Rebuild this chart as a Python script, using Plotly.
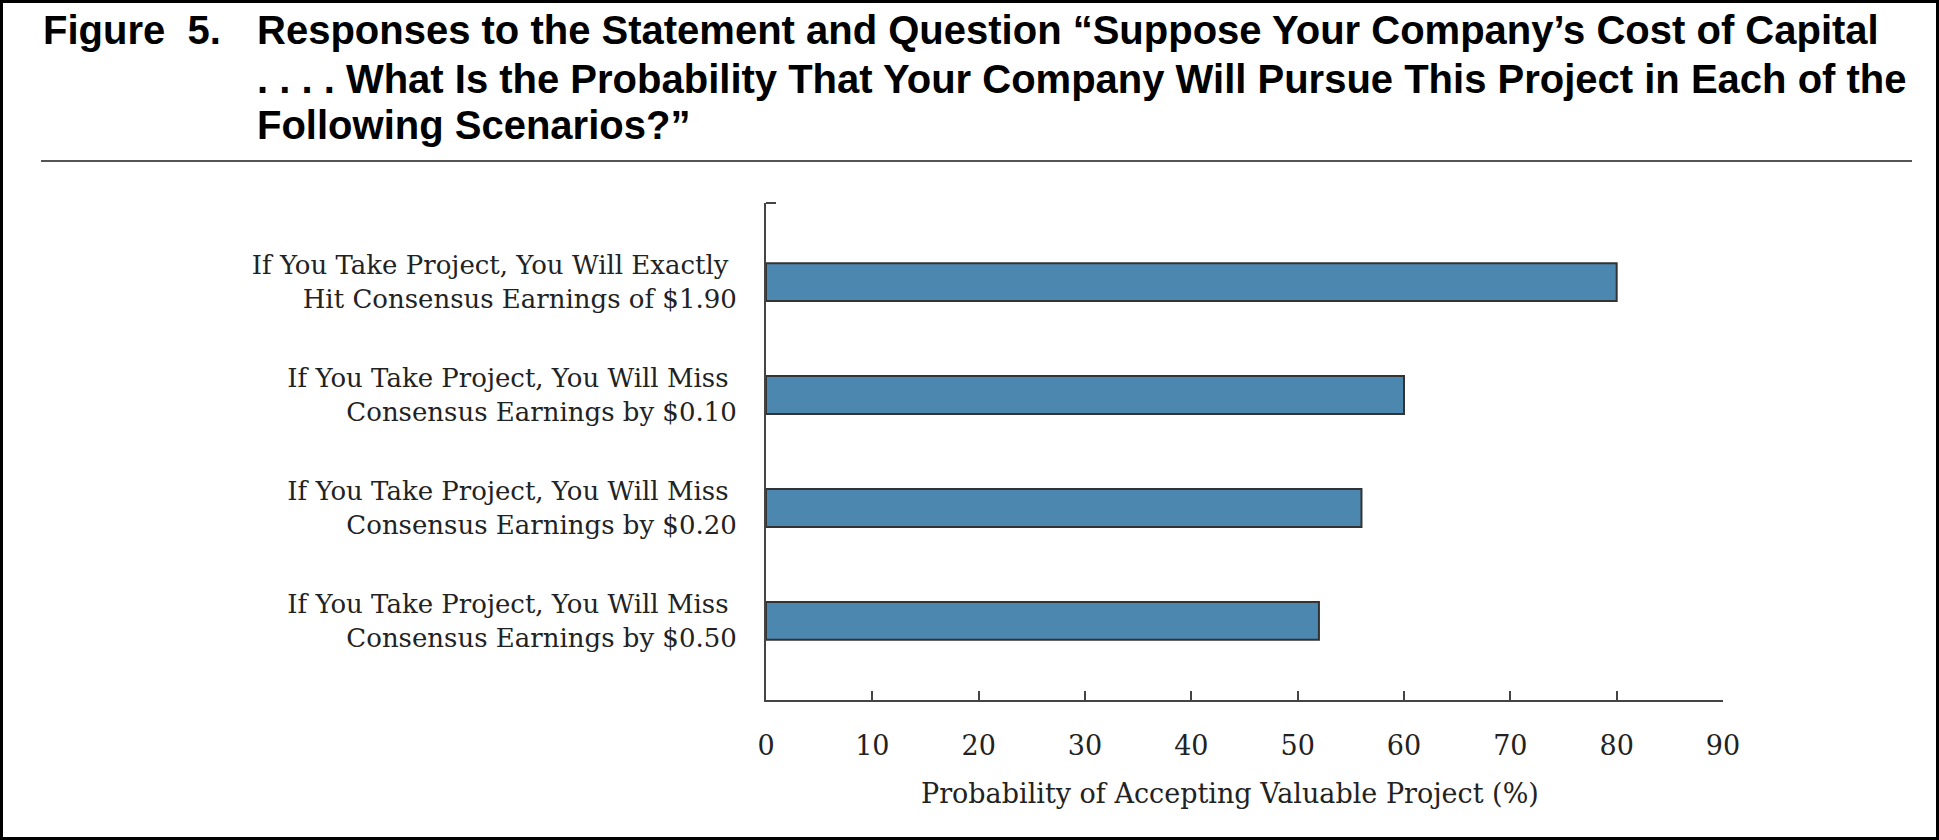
import plotly.graph_objects as go

# ---- data ----
categories = [
    "If You Take Project, You Will Exactly\u00a0<br>Hit Consensus Earnings of $1.90",
    "If You Take Project, You Will Miss\u00a0<br>Consensus Earnings by $0.10",
    "If You Take Project, You Will Miss\u00a0<br>Consensus Earnings by $0.20",
    "If You Take Project, You Will Miss\u00a0<br>Consensus Earnings by $0.50",
]
values = [80, 60, 56, 52]
x_ticks = [0, 10, 20, 30, 40, 50, 60, 70, 80, 90]
x_title = "Probability of Accepting Valuable Project (%)"
fig_label = "Figure  5."
title_lines = [
    "Responses to the Statement and Question \u201cSuppose Your Company\u2019s Cost of Capital",
    ". . . . What Is the Probability That Your Company Will Pursue This Project in Each of the",
    "Following Scenarios?\u201d",
]

W, H = 1939, 840
L, R, T, B = 766, 1723, 203, 700
pw, ph = R - L, B - T

def px(x):
    return (x - L) / pw

def py(y):
    return (B - y) / ph

serif = "DejaVu Serif, Liberation Serif, serif"
sans = "Liberation Sans, Arial, Helvetica, sans-serif"

fig = go.Figure()
fig.add_trace(go.Bar(
    y=categories, x=values, orientation="h", width=0.335,
    marker=dict(color="#4c87b0", line=dict(color="#333333", width=2)),
    showlegend=False,
))

fig.update_layout(
    width=W, height=H,
    margin=dict(l=L, r=W - R, t=T, b=H - B, pad=0),
    paper_bgcolor="white", plot_bgcolor="white",
    xaxis=dict(
        range=[0, 90], tickvals=x_ticks, showgrid=False, zeroline=False,
        showline=True, linecolor="#444444", linewidth=2,
        ticks="inside", ticklen=9, tickwidth=1.5, tickcolor="#444444",
        tickfont=dict(family=serif, size=27, color="#222222"),
        ticklabelstandoff=21,
    ),
    yaxis=dict(
        type="category", categoryorder="array", categoryarray=categories,
        range=[3.7, -0.7], showgrid=False, zeroline=False,
        showline=True, linecolor="#444444", linewidth=2, ticks="",
        tickfont=dict(family=serif, size=26, color="#222222"),
        ticklabelstandoff=22,
    ),
)

annotations = [
    dict(text=x_title, x=px(1230), y=py(793), xref="paper", yref="paper",
         showarrow=False, xanchor="center", yanchor="middle",
         font=dict(family=serif, size=27, color="#222222")),
    dict(text="<b>" + fig_label + "</b>", x=px(41), y=py(30), xref="paper", yref="paper",
         showarrow=False, xanchor="left", yanchor="middle",
         font=dict(family=sans, size=40, color="black")),
]
line_y = [30, 79, 125]
for txt, yy in zip(title_lines, line_y):
    annotations.append(dict(text="<b>" + txt + "</b>", x=px(255), y=py(yy),
                            xref="paper", yref="paper", showarrow=False,
                            xanchor="left", yanchor="middle",
                            font=dict(family=sans, size=40, color="black")))
fig.update_layout(annotations=annotations)

shapes = [
    # rule under title
    dict(type="line", xref="paper", yref="paper", x0=px(41), x1=px(1912),
         y0=py(161), y1=py(161), line=dict(color="#555555", width=2)),
    # small tick at top of y axis
    dict(type="line", xref="paper", yref="paper", x0=0, x1=px(L + 10),
         y0=1, y1=1, line=dict(color="#444444", width=2)),
    # outer frame
    dict(type="rect", xref="paper", yref="paper", x0=px(0), x1=px(W),
         y0=py(H), y1=py(0), line=dict(color="black", width=6)),
]
fig.update_layout(shapes=shapes)

fig.write_html("out.html", config={"displayModeBar": False},
               post_script="document.body.style.margin='0';")
